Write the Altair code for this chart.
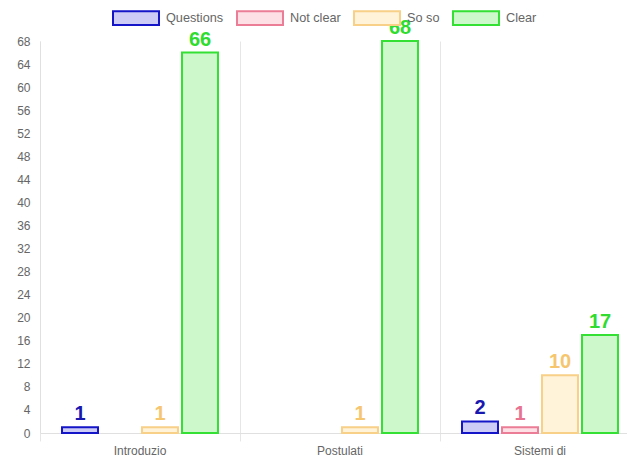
import altair as alt
import pandas as pd

categories = ["Introduzio", "Postulati", "Sistemi di"]
series = ["Questions", "Not clear", "So so", "Clear"]
questions = [1, 0, 2]
not_clear = [0, 0, 1]
so_so = [1, 1, 10]
clear = [66, 68, 17]
y_ticks = list(range(0, 69, 4))

fills = ["#ccccf7", "#fde0e6", "#fff3d9", "#ccf8cc"]
strokes = ["#1414c8", "#eb7d96", "#f8d088", "#33e033"]
label_colors = ["#1818b0", "#e8728f", "#f6c66f", "#2fdc2f"]

rows = []
for s, vals in zip(series, [questions, not_clear, so_so, clear]):
    for c, v in zip(categories, vals):
        rows.append({"category": c, "series": s, "value": v})
df = pd.DataFrame(rows)

W, H = 600, 392
FONT = "Liberation Sans"

x_enc = alt.X(
    "category:N",
    sort=categories,
    title=None,
    scale=alt.Scale(paddingInner=0, paddingOuter=0),
    axis=alt.Axis(
        bandPosition=0,
        grid=True,
        gridColor="#e6e6e6",
        tickColor="#e6e6e6",
        tickSize=8,
        domainColor="#e0e0e0",
        labelAngle=0,
        labelColor="#666666",
        labelFontSize=12,
        labelFont=FONT,
        labelPadding=4,
    ),
)
xoff = alt.XOffset(
    "series:N",
    sort=series,
    scale=alt.Scale(domain=series, paddingInner=0.1, paddingOuter=0.55),
)
y_enc = alt.Y(
    "value:Q",
    title=None,
    scale=alt.Scale(domain=[0, 68], nice=False),
    axis=alt.Axis(
        values=y_ticks,
        labelOverlap=False,
        grid=False,
        ticks=False,
        domainColor="#e0e0e0",
        labelColor="#666666",
        labelFontSize=12,
        labelFont=FONT,
        labelPadding=10,
    ),
)

legend_kw = dict(
    title=None,
    orient="none",
    legendX=72,
    legendY=-47,
    direction="horizontal",
    symbolType="M-1,-0.3L1,-0.3L1,0.3L-1,0.3Z",
    symbolSize=2116,
    symbolStrokeWidth=2,
    labelFontSize=12.7,
    labelFont=FONT,
    labelColor="#666666",
    labelOffset=6,
    columnPadding=9,
)

base = alt.Chart(df).transform_filter(alt.datum.value > 0)

bars = base.mark_bar(strokeWidth=2, strokeOpacity=1).encode(
    x=x_enc,
    xOffset=xoff,
    y=y_enc,
    fill=alt.Fill(
        "series:N",
        sort=series,
        scale=alt.Scale(domain=series, range=fills),
        legend=alt.Legend(**legend_kw),
    ),
    stroke=alt.Stroke(
        "series:N",
        sort=series,
        scale=alt.Scale(domain=series, range=strokes),
        legend=alt.Legend(**legend_kw),
    ),
)

labels = base.mark_text(
    fontSize=20, fontWeight="bold", font=FONT, baseline="bottom", dy=-3
).encode(
    x=x_enc,
    xOffset=xoff,
    y=y_enc,
    text=alt.Text("value:Q"),
    color=alt.Color(
        "series:N", sort=series,
        scale=alt.Scale(domain=series, range=label_colors),
        legend=None,
    ),
)

chart = (
    alt.layer(bars, labels)
    .resolve_scale(color="independent")
    .properties(
        width=W,
        height=H,
        padding={"left": 40, "top": 41, "right": -13, "bottom": 26},
        autosize=alt.AutoSizeParams(type="none"),
        background="white",
    )
    .configure_view(stroke=None)
)

chart.save("out.html", embed_options={"renderer": "svg", "actions": False})
